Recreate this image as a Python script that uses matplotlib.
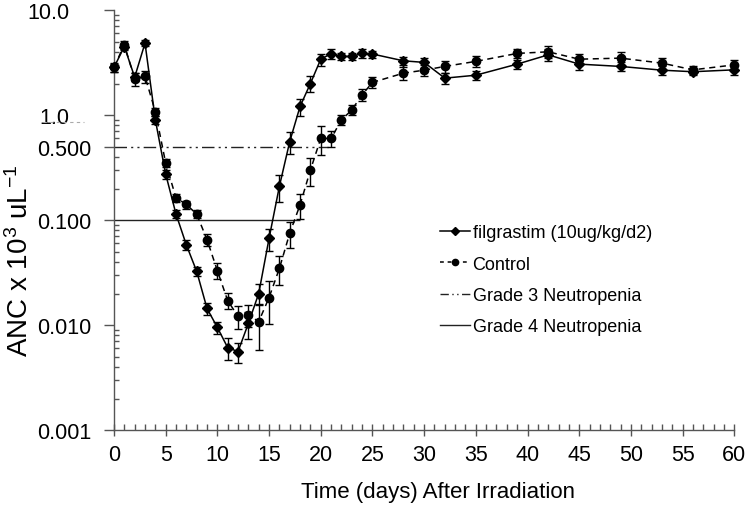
import matplotlib
matplotlib.use('Agg')
import matplotlib.pyplot as plt
from matplotlib.ticker import FixedLocator, FixedFormatter, LogLocator, MultipleLocator
from matplotlib.lines import Line2D

plt.rcParams['font.family'] = ['Liberation Sans', 'DejaVu Sans']
plt.rcParams['mathtext.default'] = 'regular'

# days after irradiation
days = [0, 1, 2, 3, 4, 5, 6, 7, 8, 9, 10, 11, 12, 13, 14, 15, 16, 17, 18, 19,
        20, 21, 22, 23, 24, 25, 28, 30, 32, 35, 39, 42, 45, 49, 53, 56, 60]

# ANC (x10^3 /uL), filgrastim group
filg = [2.85, 4.5, 2.3, 4.85, 0.90, 0.274, 0.114, 0.058, 0.0325, 0.0144,
        0.0095, 0.0061, 0.0056, 0.0104, 0.020, 0.067, 0.21, 0.56, 1.21, 2.0,
        3.41, 3.85, 3.62, 3.62, 3.87, 3.82, 3.29, 3.18, 2.25, 2.40,
        3.06, 3.75, 3.06, 2.91, 2.68, 2.59, 2.70]
filg_err = [0.25, 0.3, 0.2, 0.3, 0.08, 0.025, 0.01, 0.006, 0.003, 0.002,
            0.0012, 0.0014, 0.0012, 0.003, 0.0045, 0.016, 0.06, 0.13, 0.22, 0.35,
            0.45, 0.4, 0.3, 0.3, 0.4, 0.3, 0.3, 0.35, 0.25, 0.25,
            0.3, 0.5, 0.35, 0.3, 0.25, 0.2, 0.3]

# control group
ctrl = [2.85, 4.7, 2.2, 2.34, 1.08, 0.349, 0.163, 0.141, 0.114, 0.065,
        0.033, 0.0171, 0.0121, 0.0125, 0.0108, 0.0183, 0.0347, 0.075, 0.14, 0.30,
        0.60, 0.60, 0.90, 1.12, 1.56, 2.05, 2.51, 2.68, 2.91, 3.25,
        3.87, 4.01, 3.41, 3.49, 3.13, 2.70, 3.01]
ctrl_err = [0.3, 0.4, 0.3, 0.3, 0.1, 0.03, 0.015, 0.012, 0.01, 0.008,
            0.0057, 0.003, 0.003, 0.003, 0.005, 0.008, 0.0105, 0.021, 0.038, 0.09,
            0.18, 0.1, 0.1, 0.12, 0.2, 0.25, 0.35, 0.3, 0.4, 0.4,
            0.4, 0.5, 0.4, 0.5, 0.35, 0.25, 0.35]

# neutropenia thresholds and how far the reference lines run
grade3 = 0.5
grade3_end = 20.7
grade4 = 0.1
grade4_end = 18

ytick_vals = [0.001, 0.01, 0.1, 0.5, 1.0, 10.0]
ytick_labels = ['0.001', '0.010', '0.100', '0.500', '1.0', '10.0']

fig = plt.figure(figsize=(7.5, 5.06), dpi=100)
ax = fig.add_axes([0.152, 0.148, 0.827, 0.830])

ax.hlines(grade3, 0, grade3_end, color='#222222', lw=1.0,
          linestyles=[(0, (9, 3, 1.5, 3, 1.5, 3))])
ax.hlines(grade4, 0, grade4_end, color='#222222', lw=1.0)

ax.errorbar(days, filg, yerr=filg_err, color='black', lw=1.1, marker='D', ms=5,
            capsize=3, elinewidth=1, capthick=1, clip_on=False, zorder=3)
ax.errorbar(days, ctrl, yerr=ctrl_err, color='black', lw=1.1, ls=(0, (4, 3)),
            marker='o', ms=6, capsize=3, elinewidth=1, capthick=1,
            clip_on=False, zorder=3)

ax.set_yscale('log')
ax.set_ylim(0.001, 10)
ax.set_xlim(0, 60)
ax.yaxis.set_major_locator(FixedLocator(ytick_vals))
ax.yaxis.set_major_formatter(FixedFormatter(ytick_labels))
ax.yaxis.set_minor_locator(LogLocator(base=10, subs=range(2, 10)))
ax.yaxis.set_minor_formatter(FixedFormatter([]))
ax.xaxis.set_major_locator(MultipleLocator(5))
ax.xaxis.set_minor_locator(MultipleLocator(1))

for side in ['top', 'right']:
    ax.spines[side].set_visible(False)
for side in ['left', 'bottom']:
    ax.spines[side].set_color('#555555')
    ax.spines[side].set_linewidth(1)

ax.tick_params(axis='x', which='major', direction='inout', length=8, width=1,
               color='#555555', labelsize=15.5, pad=6)
ax.tick_params(axis='x', which='minor', direction='in', length=4, width=1, color='#555555')
ax.tick_params(axis='y', which='major', direction='out', length=7, width=1,
               color='#555555', labelsize=15.5, pad=9)
ax.tick_params(axis='y', which='minor', direction='in', length=3.5, width=1, color='#555555')

# the two top labels sit further left in the original
for tick, lab in zip(ax.yaxis.get_major_ticks(), ytick_labels):
    if lab in ('1.0', '10.0'):
        tick.set_pad(25)

ax.set_xlabel('Time (days) After Irradiation', fontsize=16)
ax.xaxis.set_label_coords(0.5226, -0.145)
ax.xaxis.label.set_va('center')
ax.set_ylabel('ANC x 10$^{3}$ uL$^{-1}$', fontsize=20)
ax.yaxis.set_label_coords(-0.152, 0.405)
ax.yaxis.label.set_va('center')

# faint dashed stroke under the "1.0" label in the original
fig.add_artist(Line2D([43 / 750, 84 / 750], [1 - 123 / 506, 1 - 123 / 506],
                      color='#aaaaaa', lw=0.8, ls=(0, (3, 3))))

handles = [
    Line2D([], [], color='black', lw=1.1, marker='D', ms=4),
    Line2D([], [], color='black', lw=1.1, ls=(0, (2.5, 2.5)), marker='o', ms=4.5),
    Line2D([], [], color='#222222', lw=1.0, ls=(0, (6, 2.5, 1, 2.5, 1, 2.5))),
    Line2D([], [], color='#222222', lw=1.0),
]
labels = ['filgrastim (10ug/kg/d2)', 'Control', 'Grade 3 Neutropenia', 'Grade 4 Neutropenia']
ax.legend(handles, labels, loc='upper left', bbox_to_anchor=(0.526, 0.49),
          frameon=False, fontsize=13, handlelength=1.67, handletextpad=0.12,
          labelspacing=0.79, borderaxespad=0, borderpad=0)

fig.savefig('out.png', dpi=100)
